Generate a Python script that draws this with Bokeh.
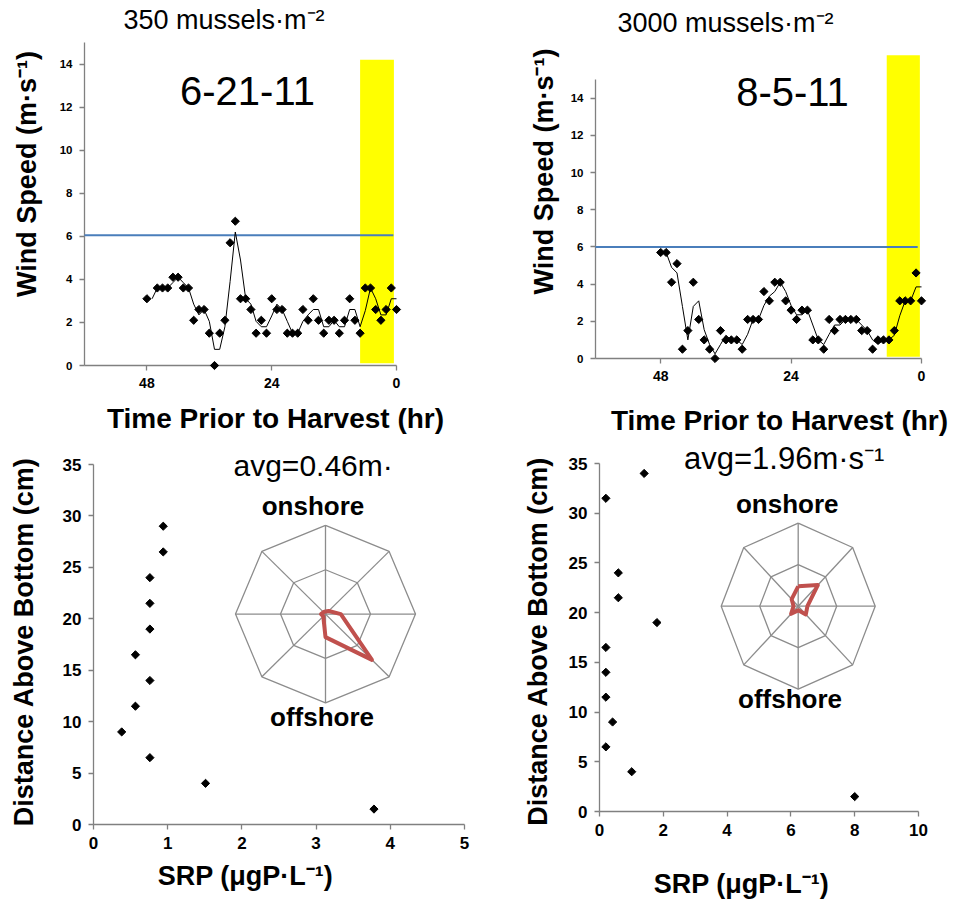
import math
import pandas as pd
from bokeh.plotting import figure
from bokeh.models import Range1d, FixedTicker
from bokeh.core.properties import value
from bokeh.layouts import column, row
from bokeh.embed import file_html
from bokeh.resources import INLINE

FONT = "Liberation Sans"
AX = "#808080"
BASE_SHIFT = 0.37   # correction of the rendered text baseline, in em

# ---------------- data ----------------
hours = list(range(48, -1, -1))
wind_jun = [3.1, None, 3.6, 3.6, 3.6, 4.1, 4.1, 3.6, 3.6, 2.1, 2.6, 2.6, 1.5, 0.0, 1.5, 2.1,
            5.7, 6.7, 3.1, 3.1, 2.6, 1.5, 2.1, 1.5, 3.1, 2.6, 2.6, 1.5, 1.5, 1.5, 2.6, 2.1,
            3.1, 2.1, 1.5, 2.1, 2.1, 1.5, 2.1, 3.1, 2.1, 1.5, 3.6, 3.6, 2.6, 2.1, 2.6, 3.6, 2.6]
wind_aug = [5.7, 5.7, 4.1, 5.1, 0.5, 1.5, 4.1, 2.1, 1.0, 0.5, 0.0, 1.5, 1.0, 1.0, 1.0, 0.5,
            2.1, 2.1, 2.1, 3.6, 3.1, 4.1, 4.1, 3.1, 2.6, 2.1, 2.6, 2.6, 1.0, 1.0, 0.5, 2.1,
            1.5, 2.1, 2.1, 2.1, 2.1, 1.5, 1.5, 0.5, 1.0, 1.0, 1.0, 1.5, 3.1, 3.1, 3.1, 4.6, 3.1]
threshold_jun = 6.05
threshold_aug = 6.0
thresh_span_jun = [60, 0.6]
thresh_span_aug = [60, 0.7]
harvest_jun = dict(left=7.0, right=0.5, bottom=0.1, top=14.2)
harvest_aug = dict(left=6.4, right=0.3, bottom=0.1, top=16.3)
time_ticks = [0, 24, 48]
wind_ticks = [0, 2, 4, 6, 8, 10, 12, 14]

depth_jun = [29, 26.5, 24, 21.5, 19, 16.5, 14, 11.5, 9, 6.5, 4, 1.5]
srp_jun = [0.94, 0.94, 0.76, 0.76, 0.76, 0.565, 0.76, 0.565, 0.38, 0.76, 1.51, 3.78]
depth_aug = [34, 31.5, 24, 21.5, 19, 16.5, 14, 11.5, 9, 6.5, 4, 1.5]
srp_aug = [1.40, 0.2, 0.59, 0.59, 1.80, 0.2, 0.2, 0.2, 0.41, 0.2, 1.01, 8.0]

radar_dirs = ["N", "NE", "E", "SE", "S", "SW", "W", "NW"]
radar_jun = [0.03, 0.05, 0.17, 0.73, 0.26, 0.035, 0.05, 0.03]
radar_aug = [0.24, 0.36, 0.12, 0.14, 0.05, 0.13, 0.06, 0.12]
radar_rings = [0.5, 1.0]

titles = ["350 mussels·m⁻²", "3000 mussels·m⁻²"]
dates = ["6-21-11", "8-5-11"]
avg_texts = ["avg=0.46m·", "avg=1.96m·s⁻¹"]


def make_fig(w, h, xr, yr, bl, br, bt, bb, tick_size):
    p = figure(width=w, height=h, x_range=xr, y_range=yr, output_backend="svg",
               toolbar_location=None, min_border_left=bl, min_border_right=br,
               min_border_top=bt, min_border_bottom=bb)
    p.xgrid.visible = False
    p.ygrid.visible = False
    p.outline_line_color = None
    p.border_fill_color = "white"
    p.background_fill_color = "white"
    for ax in (p.xaxis[0], p.yaxis[0]):
        ax.axis_line_color = AX
        ax.axis_line_width = 1.3
        ax.major_tick_line_color = AX
        ax.major_tick_line_width = 1.3
        ax.major_tick_out = 5
        ax.major_tick_in = 0
        ax.minor_tick_line_color = None
        ax.major_label_standoff = 7
        ax.major_label_text_font = FONT
        ax.major_label_text_font_style = "bold"
        ax.major_label_text_color = "black"
        ax.major_label_text_font_size = tick_size
    return p


def add_text(p, fl, fb, x, y, text, size, bold=False, align="center", angle=0.0):
    # x, y: wanted baseline position in this canvas (px from its top-left)
    # fl, fb: frame left / frame bottom in the same canvas
    if angle:
        x = x - BASE_SHIFT * size
    else:
        y = y - BASE_SHIFT * size
    r = p.text(x=[x - fl], y=[fb - y], text=[text], x_range_name="px", y_range_name="py",
               text_font=value(FONT), text_font_size=value(f"{size}px"),
               text_font_style="bold" if bold else "normal", text_align=align,
               text_baseline="alphabetic", angle=angle, text_color="black")
    r.level = "overlay"


def wind_panel(w, h, bl, br, bt, bb, wind, thr, span, harvest):
    p = make_fig(w, h, Range1d(60, 0), Range1d(0, 15), bl, br, bt, bb, "11.5px")
    p.extra_x_ranges = {"px": Range1d(0, w - bl - br)}
    p.extra_y_ranges = {"py": Range1d(0, h - bt - bb)}
    p.xaxis[0].ticker = FixedTicker(ticks=time_ticks)
    p.yaxis[0].ticker = FixedTicker(ticks=wind_ticks)
    p.xaxis[0].major_label_text_font_size = "14px"
    r = p.quad(left=[harvest["left"]], right=[harvest["right"]], bottom=[harvest["bottom"]],
               top=[harvest["top"]], fill_color="#ffff00", line_color=None)
    r.level = "annotation"
    r = p.line(span, [thr, thr], line_color="#4a7ebb", line_width=2)
    r.level = "annotation"
    s = pd.Series(wind, dtype="float64")
    ma = s.rolling(2, min_periods=1).mean()
    r = p.line(hours[1:], list(ma[1:]), line_color="black", line_width=1)
    r.level = "overlay"
    xs = [hh for hh, v in zip(hours, wind) if v is not None]
    ys = [v for v in wind if v is not None]
    r = p.scatter(xs, ys, marker="square", angle=math.pi / 4, size=5.8,
                  fill_color="black", line_color="black")
    r.level = "overlay"
    return p


def srp_panel(w, h, bl, br, bt, bb, xmax, xticks, srp, depth, cx, cy, rx, ry, vals):
    p = make_fig(w, h, Range1d(0, xmax), Range1d(0, 35), bl, br, bt, bb, "17px")
    fw, fh = w - bl - br, h - bt - bb
    p.xaxis[0].ticker = FixedTicker(ticks=xticks)
    p.yaxis[0].ticker = FixedTicker(ticks=[0, 5, 10, 15, 20, 25, 30, 35])
    # cx, cy: radar centre offset from frame left / frame bottom (px)
    p.extra_x_ranges = {"px": Range1d(0, fw), "rx": Range1d(-cx, fw - cx)}
    p.extra_y_ranges = {"py": Range1d(0, fh), "ry": Range1d(-cy, fh - cy)}
    n = len(radar_dirs)
    ang = [2 * math.pi * k / n for k in range(n)]
    ring_xs, ring_ys = [], []
    for rr in radar_rings:
        ring_xs.append([rr * rx * math.sin(a) for a in ang] + [0.0])
        ring_ys.append([rr * ry * math.cos(a) for a in ang] + [rr * ry])
    spoke_xs = [[0, rx * math.sin(a)] for a in ang]
    spoke_ys = [[0, ry * math.cos(a)] for a in ang]
    p.multi_line(ring_xs + spoke_xs, ring_ys + spoke_ys, line_color="#8c8c8c",
                 line_width=1.3, x_range_name="rx", y_range_name="ry")
    px = [v * rx * math.sin(a) for v, a in zip(vals, ang)]
    py = [v * ry * math.cos(a) for v, a in zip(vals, ang)]
    p.line(px + px[:1], py + py[:1], line_color="#c0504d", line_width=4,
           line_join="round", x_range_name="rx", y_range_name="ry")
    r = p.scatter(srp, depth, marker="square", angle=math.pi / 4, size=5.8,
                  fill_color="black", line_color="black")
    r.level = "overlay"
    return p


# ---------------- panel 1 (top-left), canvas origin (0, 0) ----------------
p1 = wind_panel(480, 440, 84, 84, 42, 75, wind_jun, threshold_jun, thresh_span_jun, harvest_jun)
fl, fb = 84, 365
add_text(p1, fl, fb, 223.5, 29, titles[0], 27)
add_text(p1, fl, fb, 247, 105, dates[0], 40)
add_text(p1, fl, fb, 36.5, 173.5, "Wind Speed (m·s⁻¹)", 27, bold=True, angle=math.pi / 2)
add_text(p1, fl, fb, 275, 428, "Time Prior to Harvest (hr)", 28, bold=True)

# ---------------- panel 2 (top-right), canvas origin (480, 0) ----------------
p2 = wind_panel(473, 440, 115, 32, 79, 82, wind_aug, threshold_aug, thresh_span_aug, harvest_aug)
fl, fb = 115, 358
add_text(p2, fl, fb, 245, 32.5, titles[1], 27)
add_text(p2, fl, fb, 312, 106.5, dates[1], 40)
add_text(p2, fl, fb, 73, 171, "Wind Speed (m·s⁻¹)", 27, bold=True, angle=math.pi / 2)
add_text(p2, fl, fb, 299, 430, "Time Prior to Harvest (hr)", 28, bold=True)

# ---------------- panel 3 (bottom-left), canvas origin (0, 440) ----------------
p3 = srp_panel(480, 460, 93, 16, 24, 76, 5, [0, 1, 2, 3, 4, 5], srp_jun, depth_jun,
               325 - 93, 383.7 - 173.3, 90, 88.7, radar_jun)
fl, fb = 93, 384
add_text(p3, fl, fb, 233, 36, avg_texts[0], 30, align="left")
add_text(p3, fl, fb, 312.5, 75, "onshore", 26, bold=True)
add_text(p3, fl, fb, 321.5, 286, "offshore", 26, bold=True)
add_text(p3, fl, fb, 33.5, 197.5, "Distance Above  Bottom (cm)", 27, bold=True, angle=math.pi / 2)
add_text(p3, fl, fb, 245, 445, "SRP (μgP·L⁻¹)", 27, bold=True)

# ---------------- panel 4 (bottom-right), canvas origin (480, 440) ----------------
p4 = srp_panel(473, 460, 119, 35, 23, 89, 10, [0, 2, 4, 6, 8, 10], srp_aug, depth_aug,
               317.7 - 119, 371 - 165.7, 77, 83, radar_aug)
fl, fb = 119, 371
add_text(p4, fl, fb, 203.5, 29, avg_texts[1], 31, align="left")
add_text(p4, fl, fb, 306.7, 72.7, "onshore", 26, bold=True)
add_text(p4, fl, fb, 309.5, 268.3, "offshore", 26, bold=True)
add_text(p4, fl, fb, 67, 197, "Distance Above  Bottom (cm)", 27, bold=True, angle=math.pi / 2)
add_text(p4, fl, fb, 261, 453, "SRP (μgP·L⁻¹)", 27, bold=True)

layout = column(row(column(p1), column(p2)), row(column(p3), column(p4)))
open("out.html", "w").write(file_html(layout, INLINE))
